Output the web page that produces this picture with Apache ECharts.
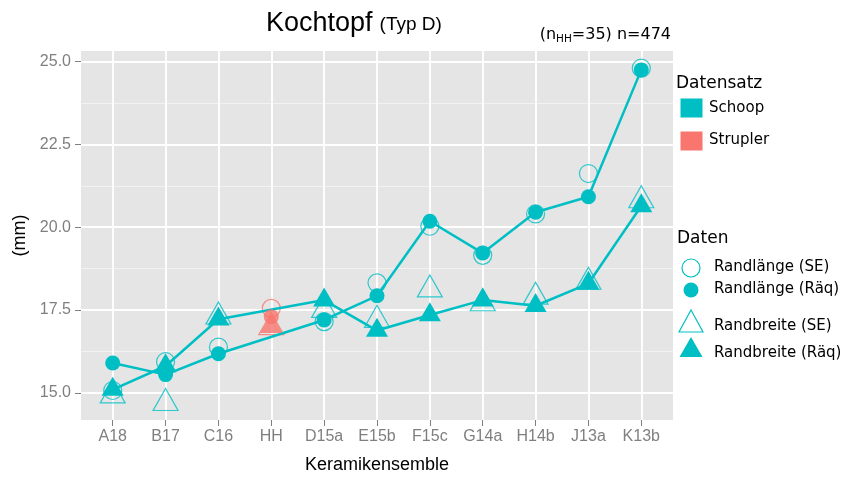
<!DOCTYPE html>
<html>
<head>
<meta charset="utf-8">
<script src="https://cdn.jsdelivr.net/npm/echarts@6/dist/echarts.min.js"></script>
<style>html,body{margin:0;padding:0;background:#fff;}#c{width:845px;height:479px;}</style>
</head>
<body>
<div id="c"></div>
<script>
// ---- data ----
var categories = ['A18','B17','C16','HH','D15a','E15b','F15c','G14a','H14b','J13a','K13b'];
var datensatz  = ['Schoop','Schoop','Schoop','Strupler','Schoop','Schoop','Schoop','Schoop','Schoop','Schoop','Schoop'];
var randlaengeSE   = [15.07, 15.94, 16.38, 17.55, 17.15, 18.32, 20.03, 19.15, 20.40, 21.62, 24.80];
var randlaengeRaeq = [15.90, 15.55, 16.18, 17.30, 17.20, 17.93, 20.18, 19.22, 20.45, 20.92, 24.75];
var randbreiteSE   = [14.92, 14.69, 17.30, 16.98, 17.50, 17.20, 18.12, 17.70, 17.90, 18.35, 20.81];
var randbreiteRaeq = [15.10, 15.81, 17.22, 17.00, 17.80, 16.88, 17.35, 17.80, 17.63, 18.30, 20.64];
var yTicks = [15, 17.5, 20, 22.5, 25];
var yMinorTicks = [16.25, 18.75, 21.25, 23.75];
var yMin = 14.18, yMax = 25.32;

var TEAL = '#00BFC4', RED = '#F8766D';
function pts(vals, set) {
  var out = [];
  for (var i = 0; i < categories.length; i++) {
    if (datensatz[i] === set) out.push([i + 1, vals[i]]);
  }
  return out;
}
var xPos = categories.map(function (c, i) { return i + 1; });

var openCircle = function (color) { return { color: 'rgba(0,0,0,0)', borderColor: color, borderWidth: 1.2 }; };
var triF = [22, 19], triO = [25, 22];

var series = [];
['Schoop', 'Strupler'].forEach(function (set) {
  var col = set === 'Schoop' ? TEAL : RED;
  series.push({
    type: 'scatter', name: 'Randlänge (SE) ' + set, data: pts(randlaengeSE, set),
    symbol: 'circle', symbolSize: 18, itemStyle: openCircle(col), z: 2
  });
  series.push({
    type: 'scatter', name: 'Randbreite (SE) ' + set, data: pts(randbreiteSE, set),
    symbol: 'triangle', symbolSize: triO, symbolOffset: [0, -3.6], itemStyle: openCircle(col), z: 2
  });
  series.push({
    type: set === 'Schoop' ? 'line' : 'scatter', name: 'Randlänge (Räq) ' + set, data: pts(randlaengeRaeq, set),
    symbol: 'circle', symbolSize: 15, showSymbol: true,
    lineStyle: { color: col, width: 2.5 }, itemStyle: { color: col }, z: 3
  });
  series.push({
    type: set === 'Schoop' ? 'line' : 'scatter', name: 'Randbreite (Räq) ' + set, data: pts(randbreiteRaeq, set),
    symbol: 'triangle', symbolSize: triF, symbolOffset: [0, -3.2], showSymbol: true,
    lineStyle: { color: col, width: 2.5 }, itemStyle: { color: col }, z: 3
  });
});
series.forEach(function (s) { s.silent = true; s.animation = false; if (s.type === 'line') s.emphasis = { disabled: true }; });

var AX = '#7F7F7F';
var LF = 'DejaVu Sans';
var graphic = [
  // subtitle
  { type: 'text', right: 174, top: 27, style: { text: '{a|(n}{s|HH}{a|=35) n=474}', rich: {
      a: { fontFamily: LF, fontSize: 16, fill: '#000', lineHeight: 20 },
      s: { fontFamily: LF, fontSize: 10.5, fill: '#000', lineHeight: 20, verticalAlign: 'bottom', padding: [6, 0, 0, 0] } } } },
  // legend Datensatz
  { type: 'text', left: 676, top: 75, style: { text: 'Datensatz', fontFamily: LF, fontSize: 17, fill: '#000' } },
  { type: 'rect', shape: { x: 680, y: 98, width: 23, height: 20 }, style: { fill: TEAL, stroke: '#fff', lineWidth: 1 } },
  { type: 'text', left: 709, top: 101, style: { text: 'Schoop', fontFamily: LF, fontSize: 15, fill: '#000' } },
  { type: 'rect', shape: { x: 680, y: 131, width: 23, height: 20 }, style: { fill: RED, stroke: '#fff', lineWidth: 1 } },
  { type: 'text', left: 709, top: 133, style: { text: 'Strupler', fontFamily: LF, fontSize: 15, fill: '#000' } },
  // legend Daten
  { type: 'text', left: 677, top: 230, style: { text: 'Daten', fontFamily: LF, fontSize: 17, fill: '#000' } },
  { type: 'circle', shape: { cx: 691, cy: 268, r: 9 }, style: { fill: 'none', stroke: TEAL, lineWidth: 1.2 } },
  { type: 'text', left: 714, top: 260, style: { text: 'Randlänge (SE)', fontFamily: LF, fontSize: 15, fill: '#000' } },
  { type: 'circle', shape: { cx: 691, cy: 290, r: 7.5 }, style: { fill: TEAL } },
  { type: 'text', left: 714, top: 282, style: { text: 'Randlänge (Räq)', fontFamily: LF, fontSize: 15, fill: '#000' } },
  { type: 'polygon', shape: { points: [[691, 310], [703, 332], [679, 332]] }, style: { fill: 'none', stroke: TEAL, lineWidth: 1.2 } },
  { type: 'text', left: 714, top: 319, style: { text: 'Randbreite (SE)', fontFamily: LF, fontSize: 15, fill: '#000' } },
  { type: 'polygon', shape: { points: [[691, 337], [702.5, 357], [679.5, 357]] }, style: { fill: TEAL } },
  { type: 'text', left: 714, top: 346, style: { text: 'Randbreite (Räq)', fontFamily: LF, fontSize: 15, fill: '#000' } }
];

var chart = echarts.init(document.getElementById('c'), null, { renderer: 'canvas' });
chart.setOption({
  animation: false,
  backgroundColor: '#fff',
  textStyle: { fontFamily: 'Liberation Sans' },
  title: {
    text: '{a|Kochtopf} {b|(Typ D)}', left: 261, top: 5,
    textStyle: { fontWeight: 'normal', rich: {
      a: { fontFamily: 'Liberation Sans', fontSize: 27, fontWeight: 'normal', color: '#000' },
      b: { fontFamily: 'Liberation Sans', fontSize: 19, fontWeight: 'normal', color: '#000', padding: [3, 0, 0, 2] } } }
  },
  grid: { left: 81, right: 172, top: 51, bottom: 58, show: true, backgroundColor: '#E5E5E5', borderWidth: 0, containLabel: false },
  xAxis: {
    type: 'value', min: 0.4, max: 11.6,
    axisLine: { show: false },
    axisTick: { show: true, length: 6, lineStyle: { color: AX, width: 1 }, customValues: xPos },
    axisLabel: { customValues: xPos, color: AX, fontSize: 16, margin: 9, fontFamily: 'Liberation Sans',
      formatter: function (v) { return categories[Math.round(v) - 1]; } },
    splitLine: { show: true, lineStyle: { color: '#fff', width: 1.8 } },
    name: 'Keramikensemble', nameLocation: 'middle', nameGap: 36,
    nameTextStyle: { color: '#000', fontSize: 18, fontFamily: 'Liberation Sans' }
  },
  yAxis: [{
    type: 'value', min: yMin, max: yMax,
    axisLine: { show: false },
    axisTick: { show: true, length: 6, lineStyle: { color: AX, width: 1 }, customValues: yTicks },
    axisLabel: { customValues: yTicks, color: AX, fontSize: 16, margin: 10, fontFamily: 'Liberation Sans',
      formatter: function (v) { return v.toFixed(1); } },
    splitLine: { show: true, lineStyle: { color: '#fff', width: 1.8 } },
    name: '(mm)', nameLocation: 'middle', nameGap: 52, nameRotate: 90,
    nameTextStyle: { color: '#000', fontSize: 18, fontFamily: 'Liberation Sans' }
  }, {
    type: 'value', min: yMin, max: yMax, position: 'left',
    axisLine: { show: false }, axisLabel: { show: false },
    axisTick: { show: false, customValues: yMinorTicks },
    splitLine: { show: true, lineStyle: { color: '#F2F2F2', width: 1 } }
  }],
  series: series,
  graphic: graphic
});
</script>
</body>
</html>
